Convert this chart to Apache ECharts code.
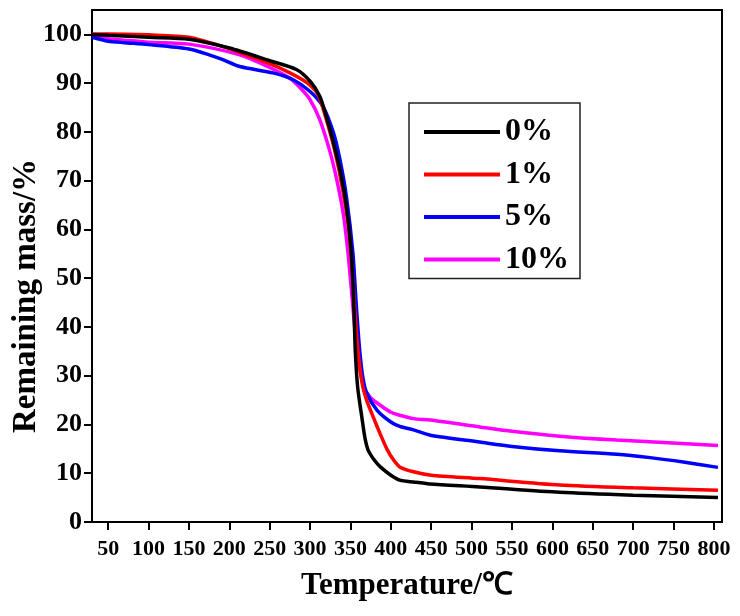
<!DOCTYPE html>
<html>
<head>
<meta charset="utf-8">
<script src="https://cdn.jsdelivr.net/npm/echarts@6/dist/echarts.min.js"></script>
<style>html,body{margin:0;padding:0;background:#fff}#c{width:740px;height:616px}</style>
</head>
<body>
<div id="c"></div>
<script>
var seriesNames = ['0%', '1%', '5%', '10%'];
var seriesColors = ['#000000', '#ff0000', '#0000ff', '#ff00ff'];
var xTicks = [50,100,150,200,250,300,350,400,450,500,550,600,650,700,750,800];
var yTicks = [0,10,20,30,40,50,60,70,80,90,100];

var black0 = [[30,100.0],[50,99.8],[100,99.4],[150,99.0],[200,97.2],[250,94.6],[283,92.8],[300,90.4],[312,87.3],[320,83.2],[328,78.4],[337,72.2],[345,64.7],[351,55.0],[354,45.0],[356,35.0],[359,27.5],[364,21.6],[368,17.2],[372,14.7],[380,12.6],[387,11.3],[400,9.6],[411,8.6],[428,8.2],[448,7.8],[510,7.2],[609,6.1],[700,5.5],[805,5.0]];
var red1 = [[30,100.1],[50,100.1],[100,99.9],[150,99.4],[200,97.1],[213,96.3],[250,94.0],[275,92.1],[296,90.1],[310,87.6],[320,82.6],[330,76.5],[340,68.5],[348,60.0],[352,52.0],[356,42.0],[360,34.0],[365,28.0],[370,25.0],[378,21.6],[387,18.0],[395,15.0],[403,12.8],[411,11.3],[428,10.3],[450,9.6],[510,8.9],[609,7.6],[700,7.0],[805,6.5]];
var blue5 = [[30,99.4],[50,98.6],[70,98.3],[100,97.9],[150,97.0],[175,95.8],[192,94.8],[213,93.4],[254,92.1],[279,90.7],[300,88.3],[316,85.2],[329,79.8],[337,74.3],[345,66.7],[353,55.2],[357,45.0],[361,36.0],[365,30.0],[370,26.5],[383,22.9],[400,20.5],[411,19.6],[428,18.9],[449,17.8],[510,16.4],[550,15.5],[609,14.6],[680,13.9],[721,13.2],[762,12.3],[805,11.2]];
var magenta10 = [[30,99.6],[50,99.1],[70,98.8],[100,98.4],[150,98.0],[213,95.8],[250,93.2],[275,91.0],[288,89.0],[300,86.6],[312,82.5],[325,75.7],[333,70.2],[341,63.3],[347,55.1],[352,46.0],[357,37.0],[362,31.0],[367,27.5],[375,25.5],[383,24.4],[400,22.5],[411,21.9],[428,21.2],[449,20.9],[510,19.5],[550,18.6],[609,17.6],[680,16.8],[805,15.7]];
var allData = [black0, red1, blue5, magenta10];

var FONT = '"Liberation Serif", "Times New Roman", serif';
var chart = echarts.init(document.getElementById('c'), null, {renderer: 'canvas'});
var series = seriesNames.map(function (n, i) {
  return {
    name: n, type: 'line', data: allData[i], showSymbol: false, symbol: 'none',
    smooth: 0.25,
    lineStyle: {color: seriesColors[i], width: 3.5},
    itemStyle: {color: seriesColors[i]},
    z: 10 - i
  };
});
chart.setOption({
  animation: false,
  backgroundColor: '#fff',
  grid: {left: 92, right: 18, top: 10, bottom: 94, containLabel: false, outerBoundsMode: 'none', show: true, borderColor: '#000', borderWidth: 2, backgroundColor: 'transparent'},
  legend: {
    orient: 'vertical', left: 409, top: 103,
    data: seriesNames,
    icon: 'rect', itemWidth: 76, itemHeight: 4, itemGap: 10.5, itemTextGap: 8,
    padding: [13, 11, 3, 15],
    borderColor: '#222', borderWidth: 1.5, backgroundColor: '#fff',
    textStyle: {fontFamily: FONT, fontWeight: 'bold', fontSize: 32, color: '#000'}
  },
  xAxis: {
    type: 'value', min: 30, max: 810,
    name: 'Temperature/℃', nameLocation: 'middle', nameGap: 48, nameMoveOverlap: false,
    nameTextStyle: {fontFamily: FONT, fontWeight: 'bold', fontSize: 31, color: '#000'},
    axisLine: {show: true, onZero: false, lineStyle: {color: '#000', width: 2}},
    axisTick: {show: true, length: 8, inside: false, customValues: xTicks, lineStyle: {color: '#000', width: 2}},
    axisLabel: {customValues: xTicks, margin: 16, fontFamily: FONT, fontWeight: 'bold', fontSize: 22, color: '#000'},
    splitLine: {show: false}
  },
  yAxis: {
    type: 'value', min: 0, max: 105,
    name: 'Remaining mass/%', nameLocation: 'middle', nameGap: 49, nameMoveOverlap: false,
    nameTextStyle: {fontFamily: FONT, fontWeight: 'bold', fontSize: 33, color: '#000', padding: [0, 60, 0, 0]},
    axisLine: {show: true, onZero: false, lineStyle: {color: '#000', width: 2}},
    axisTick: {show: true, length: 8, inside: false, customValues: yTicks, lineStyle: {color: '#000', width: 2}},
    axisLabel: {customValues: yTicks, margin: 10, fontFamily: FONT, fontWeight: 'bold', fontSize: 26, color: '#000'},
    splitLine: {show: false}
  },
  series: series
});
</script>
</body>
</html>
